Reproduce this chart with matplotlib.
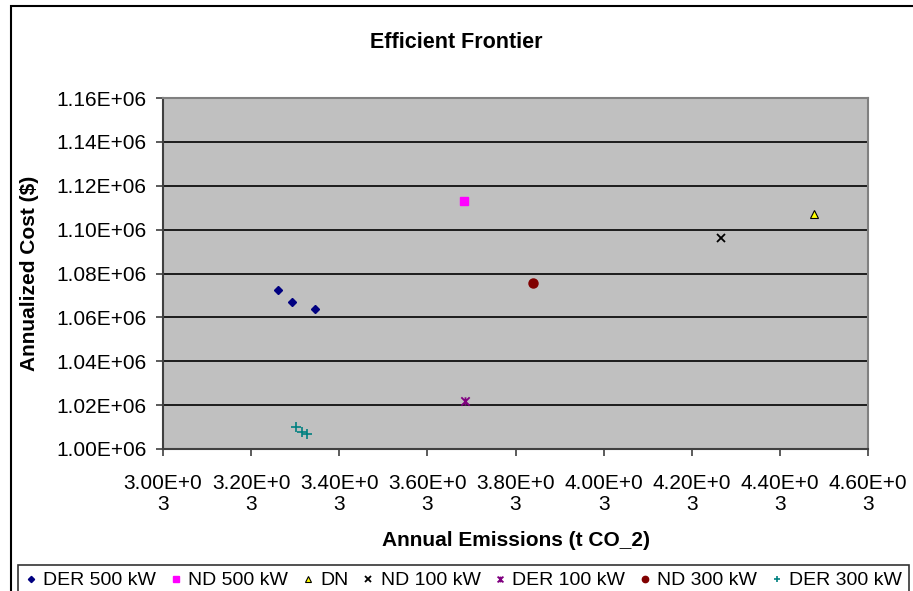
import matplotlib.pyplot as plt
import matplotlib.patches as patches
from matplotlib.path import Path

plt.rcParams['font.family'] = ['Liberation Sans', 'DejaVu Sans']

# Series data (emissions t CO2, annualized cost $)
der500_x = [3261, 3293, 3345]
der500_y = [1.0723e6, 1.0668e6, 1.0636e6]
nd500_x = [3684]
nd500_y = [1.1132e6]
dn_x = [4477]
dn_y = [1.1073e6]
nd100_x = [4266]
nd100_y = [1.0964e6]
der100_x = [3686]
der100_y = [1.0218e6]
nd300_x = [3839]
nd300_y = [1.0755e6]
der300_x = [3302, 3316, 3327]
der300_y = [1.0100e6, 1.0077e6, 1.0068e6]

x_ticks = [3000, 3200, 3400, 3600, 3800, 4000, 4200, 4400, 4600]
x_tick_labels = ["3.00E+0\n3", "3.20E+0\n3", "3.40E+0\n3", "3.60E+0\n3", "3.80E+0\n3",
                 "4.00E+0\n3", "4.20E+0\n3", "4.40E+0\n3", "4.60E+0\n3"]
y_ticks = [1.00e6, 1.02e6, 1.04e6, 1.06e6, 1.08e6, 1.10e6, 1.12e6, 1.14e6, 1.16e6]
y_tick_labels = ["1.00E+06", "1.02E+06", "1.04E+06", "1.06E+06", "1.08E+06",
                 "1.10E+06", "1.12E+06", "1.14E+06", "1.16E+06"]

# Excel-style star marker: an x with a vertical bar through it
star = Path([(-1, -1), (1, 1), (-1, 1), (1, -1), (0, -1), (0, 1)],
            [Path.MOVETO, Path.LINETO, Path.MOVETO, Path.LINETO, Path.MOVETO, Path.LINETO])

fig = plt.figure(figsize=(9.13, 5.91), dpi=100)
ax = fig.add_axes([163 / 913, 1 - 449 / 591, 705 / 913, 351 / 591])
ax.set_facecolor('#C0C0C0')

ax.plot(der500_x, der500_y, 'D', color='#000080', ms=4.5, ls='none', label='DER 500 kW')
ax.plot(nd500_x, nd500_y, 's', color='#FF00FF', ms=6, ls='none', label='ND 500 kW')
ax.plot(dn_x, dn_y, '^', mfc='#FFFF00', mec='black', mew=0.8, ms=5.5, ls='none', label='DN')
ax.plot(nd100_x, nd100_y, 'x', color='black', ms=6, mew=1.3, ls='none', label='ND 100 kW')
ax.plot(der100_x, der100_y, marker=star, color='#800080', ms=6, mew=1.3, ls='none', label='DER 100 kW')
ax.plot(nd300_x, nd300_y, 'o', color='#800000', ms=6.5, ls='none', label='ND 300 kW')
ax.plot(der300_x, der300_y, '+', color='#008080', ms=7, mew=1.2, ls='none', label='DER 300 kW')

ax.set_xlim(3000, 4600)
ax.set_ylim(1.00e6, 1.16e6)
ax.set_xticks(x_ticks)
ax.set_xticklabels(x_tick_labels, fontsize=15, linespacing=1.15)
ax.set_yticks(y_ticks)
ax.set_yticklabels(y_tick_labels, fontsize=15)
ax.tick_params(direction='out', length=5, color='#404040', width=1.2)
ax.tick_params(axis='x', pad=13)
ax.tick_params(axis='y', pad=7)
ax.grid(axis='y', color='black', lw=1.2)
ax.set_axisbelow(True)

for side in ['top', 'right']:
    ax.spines[side].set_color('#808080')
    ax.spines[side].set_linewidth(1.5)
for side in ['left', 'bottom']:
    ax.spines[side].set_color('#404040')
    ax.spines[side].set_linewidth(1.5)

fig.text(0.5, 1 - 43 / 591, 'Efficient Frontier', fontsize=15.5, fontweight='bold',
         ha='center', va='center')
ax.set_xlabel('Annual Emissions (t CO_2)', fontsize=15, fontweight='bold', labelpad=12)
ax.set_ylabel('Annualized Cost ($)', fontsize=15, fontweight='bold', labelpad=12)

leg = fig.legend(*ax.get_legend_handles_labels(), loc='upper left',
                 bbox_to_anchor=(18 / 913, 1 - 565 / 591), bbox_transform=fig.transFigure,
                 ncol=7, fontsize=14, frameon=True, fancybox=False, edgecolor='black',
                 handlelength=0.6, handletextpad=0.35, columnspacing=0.7, borderpad=0.35,
                 borderaxespad=0, markerscale=0.7)
leg.get_frame().set_linewidth(1.2)

# outer chart border
fig.patches.append(patches.Rectangle((11 / 913, -0.01), 1.0, 1 - 6 / 591 + 0.01, transform=fig.transFigure,
                                     fill=False, edgecolor='black', lw=1.5))

fig.savefig('out.png', dpi=100)
